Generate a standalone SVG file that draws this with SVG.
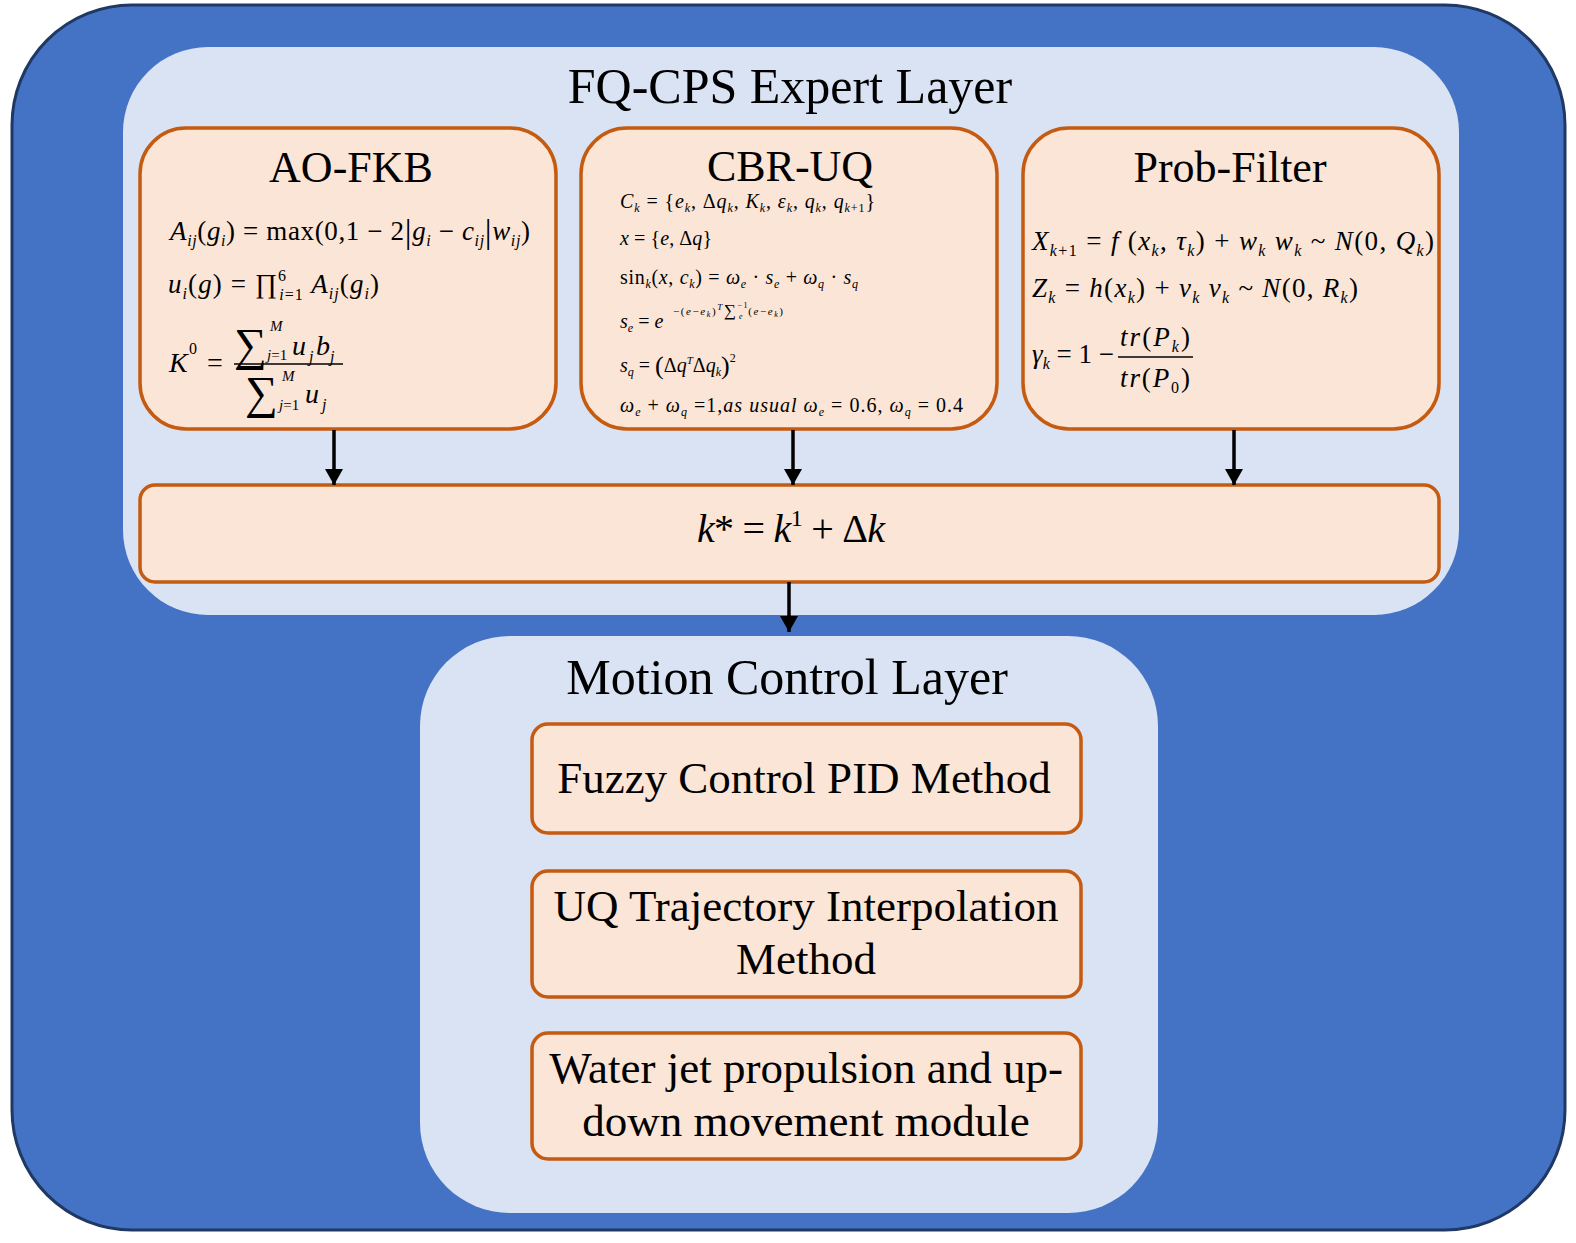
<svg xmlns="http://www.w3.org/2000/svg" width="1576" height="1243" viewBox="0 0 1576 1243">
<defs>
<marker id="ah" markerUnits="userSpaceOnUse" markerWidth="16" markerHeight="18" refX="16" refY="9" orient="auto" viewBox="0 0 16 18">
<path d="M0,0 L16,9 L0,18 Z" fill="#000"/>
</marker>
<style>
.outer{fill:#4472C4;stroke:#1F3864;stroke-width:3}
.panel{fill:#DAE3F3}
.box{fill:#FBE5D6;stroke:#C55A11;stroke-width:3.5}
.title{font-family:"Liberation Serif","Times New Roman",serif;font-size:50px;fill:#000;text-anchor:middle}
.head{font-family:"Liberation Serif","Times New Roman",serif;font-size:44px;fill:#000;text-anchor:middle}
.lbl{font-family:"Liberation Serif","Times New Roman",serif;font-size:45px;fill:#000;text-anchor:middle}
.m{font-family:"Liberation Serif","Times New Roman",serif;fill:#000}
.i{font-style:italic}
.conn{stroke:#000;stroke-width:3.5;fill:none}
</style>
</defs>

<rect class="outer" x="12" y="5" width="1553" height="1225" rx="120" ry="120"/>

<g id="expert-layer">
<rect class="panel" x="123" y="47" width="1336" height="568" rx="85" ry="85"/>
<text class="title" x="790" y="103">FQ-CPS Expert Layer</text>
</g>

<g id="motion-layer">
<rect class="panel" x="420" y="636" width="738" height="577" rx="90" ry="90"/>
<text class="title" x="787" y="694">Motion Control Layer</text>
</g>

<g id="ao-fkb">
<rect class="box" x="140" y="128" width="416" height="301" rx="46" ry="46"/>
<text class="head" x="351" y="182">AO-FKB</text>
<text class="m" x="170" y="240" font-size="27" textLength="360" lengthAdjust="spacing"><tspan class="i">A</tspan><tspan class="i" font-size="16" dy="6">ij</tspan><tspan dy="-6">(</tspan><tspan class="i">g</tspan><tspan class="i" font-size="16" dy="6">i</tspan><tspan dy="-6">) = max(0,1 − 2</tspan><tspan font-size="34" dy="3">|</tspan><tspan class="i" dy="-3">g</tspan><tspan class="i" font-size="16" dy="6">i</tspan><tspan dy="-6"> − </tspan><tspan class="i">c</tspan><tspan class="i" font-size="16" dy="6">ij</tspan><tspan font-size="34" dy="-3">|</tspan><tspan class="i" dy="-3">w</tspan><tspan class="i" font-size="16" dy="6">ij</tspan><tspan dy="-6">)</tspan></text>
<text class="m" x="168" y="293" font-size="27" textLength="211" lengthAdjust="spacing"><tspan class="i">u</tspan><tspan class="i" font-size="16" dy="6">i</tspan><tspan dy="-6">(</tspan><tspan class="i">g</tspan><tspan>) = ∏</tspan><tspan font-size="16" dy="-12">6</tspan><tspan class="i" font-size="16" dx="-8" dy="19">i</tspan><tspan font-size="16">=1</tspan><tspan class="i" dy="-7"> A</tspan><tspan class="i" font-size="16" dy="6">ij</tspan><tspan dy="-6">(</tspan><tspan class="i">g</tspan><tspan class="i" font-size="16" dy="6">i</tspan><tspan dy="-6">)</tspan></text>
<text class="m i" x="169" y="372" font-size="28">K</text>
<text class="m" x="189" y="354" font-size="16">0</text>
<text class="m" x="207" y="372" font-size="28">=</text>
<text class="m" x="234" y="360" font-size="46">∑</text>
<text class="m i" x="270" y="331" font-size="15">M</text>
<text class="m" x="267" y="360" font-size="15"><tspan class="i">j</tspan>=1</text>
<text class="m i" x="292" y="355" font-size="28">u</text>
<text class="m i" x="309" y="362" font-size="16">j</text>
<text class="m i" x="316" y="355" font-size="28">b</text>
<text class="m i" x="330" y="362" font-size="16">j</text>
<line x1="234" y1="364" x2="343" y2="364" stroke="#000" stroke-width="1.5"/>
<text class="m" x="245" y="408" font-size="46">∑</text>
<text class="m i" x="282" y="381" font-size="15">M</text>
<text class="m" x="279" y="410" font-size="15"><tspan class="i">j</tspan>=1</text>
<text class="m i" x="305" y="403" font-size="28">u</text>
<text class="m i" x="322" y="410" font-size="16">j</text>
</g>

<g id="cbr-uq">
<rect class="box" x="581" y="128" width="416" height="301" rx="46" ry="46"/>
<text class="head" x="790" y="181">CBR-UQ</text>
<text class="m" x="620" y="208" font-size="20" textLength="255" lengthAdjust="spacing"><tspan class="i">C</tspan><tspan class="i" font-size="12" dy="4">k</tspan><tspan dy="-4"> = {</tspan><tspan class="i">e</tspan><tspan class="i" font-size="12" dy="4">k</tspan><tspan dy="-4">, Δ</tspan><tspan class="i">q</tspan><tspan class="i" font-size="12" dy="4">k</tspan><tspan dy="-4">, </tspan><tspan class="i">K</tspan><tspan class="i" font-size="12" dy="4">k</tspan><tspan dy="-4">, </tspan><tspan class="i">ε</tspan><tspan class="i" font-size="12" dy="4">k</tspan><tspan dy="-4">, </tspan><tspan class="i">q</tspan><tspan class="i" font-size="12" dy="4">k</tspan><tspan dy="-4">, </tspan><tspan class="i">q</tspan><tspan class="i" font-size="12" dy="4">k</tspan><tspan font-size="12">+1</tspan><tspan dy="-4">}</tspan></text>
<text class="m" x="620" y="245" font-size="20" textLength="92" lengthAdjust="spacing"><tspan class="i">x</tspan> = {<tspan class="i">e</tspan>, Δ<tspan class="i">q</tspan>}</text>
<text class="m" x="620" y="284" font-size="20" textLength="238" lengthAdjust="spacing"><tspan>sin</tspan><tspan class="i" font-size="12" dy="4">k</tspan><tspan dy="-4">(</tspan><tspan class="i">x</tspan><tspan>, </tspan><tspan class="i">c</tspan><tspan class="i" font-size="12" dy="4">k</tspan><tspan dy="-4">) = </tspan><tspan class="i">ω</tspan><tspan class="i" font-size="12" dy="4">e</tspan><tspan dy="-4"> · </tspan><tspan class="i">s</tspan><tspan class="i" font-size="12" dy="4">e</tspan><tspan dy="-4"> + </tspan><tspan class="i">ω</tspan><tspan class="i" font-size="12" dy="4">q</tspan><tspan dy="-4"> · </tspan><tspan class="i">s</tspan><tspan class="i" font-size="12" dy="4">q</tspan></text>
<text class="m" x="620" y="328" font-size="20"><tspan class="i">s</tspan><tspan class="i" font-size="12" dy="4">e</tspan><tspan dy="-4"> = </tspan><tspan class="i">e</tspan></text>
<text class="m" x="673" y="315" font-size="11" textLength="110" lengthAdjust="spacing"><tspan>−(</tspan><tspan class="i">e</tspan><tspan>−</tspan><tspan class="i">e</tspan><tspan class="i" font-size="8" dy="2">k</tspan><tspan dy="-2">)</tspan><tspan class="i" font-size="9" dy="-5">T</tspan><tspan font-size="17" dy="6">∑</tspan><tspan font-size="8" dy="-8">−1</tspan><tspan class="i" font-size="8" dx="-10" dy="11">e</tspan><tspan dx="4" dy="-4">(</tspan><tspan class="i">e</tspan><tspan>−</tspan><tspan class="i">e</tspan><tspan class="i" font-size="8" dy="2">k</tspan><tspan dy="-2">)</tspan></text>
<text class="m" x="620" y="372" font-size="20"><tspan class="i">s</tspan><tspan class="i" font-size="12" dy="4">q</tspan><tspan dy="-4"> = </tspan><tspan font-size="26" dy="2">(</tspan><tspan dy="-2">Δ</tspan><tspan class="i">q</tspan><tspan class="i" font-size="11" dy="-8">T</tspan><tspan dy="8">Δ</tspan><tspan class="i">q</tspan><tspan class="i" font-size="12" dy="4">k</tspan><tspan font-size="26" dy="-2">)</tspan><tspan font-size="12" dy="-12">2</tspan></text>
<text class="m" x="620" y="412" font-size="20" textLength="343" lengthAdjust="spacing"><tspan class="i">ω</tspan><tspan class="i" font-size="12" dy="4">e</tspan><tspan dy="-4"> + </tspan><tspan class="i">ω</tspan><tspan class="i" font-size="12" dy="4">q</tspan><tspan dy="-4"> =1,</tspan><tspan class="i">as usual </tspan><tspan class="i"> ω</tspan><tspan class="i" font-size="12" dy="4">e</tspan><tspan dy="-4"> = 0.6, </tspan><tspan class="i">ω</tspan><tspan class="i" font-size="12" dy="4">q</tspan><tspan dy="-4"> = 0.4</tspan></text>
</g>

<g id="prob-filter">
<rect class="box" x="1023" y="128" width="416" height="301" rx="46" ry="46"/>
<text class="head" x="1230" y="182">Prob-Filter</text>
<text class="m" x="1032" y="250" font-size="27" textLength="402" lengthAdjust="spacing"><tspan class="i">X</tspan><tspan font-size="16" dy="6"><tspan class="i">k</tspan>+1</tspan><tspan dy="-6"> = </tspan><tspan class="i">f</tspan><tspan> (</tspan><tspan class="i">x</tspan><tspan class="i" font-size="16" dy="6">k</tspan><tspan dy="-6">, </tspan><tspan class="i">τ</tspan><tspan class="i" font-size="16" dy="6">k</tspan><tspan dy="-6">) + </tspan><tspan class="i">w</tspan><tspan class="i" font-size="16" dy="6">k</tspan><tspan class="i" dy="-6">  w</tspan><tspan class="i" font-size="16" dy="6">k</tspan><tspan dy="-6"> ~ </tspan><tspan class="i">N</tspan><tspan>(0, </tspan><tspan class="i">Q</tspan><tspan class="i" font-size="16" dy="6">k</tspan><tspan dy="-6">)</tspan></text>
<text class="m" x="1032" y="297" font-size="27" textLength="326" lengthAdjust="spacing"><tspan class="i">Z</tspan><tspan class="i" font-size="16" dy="6">k</tspan><tspan dy="-6"> = </tspan><tspan class="i">h</tspan><tspan>(</tspan><tspan class="i">x</tspan><tspan class="i" font-size="16" dy="6">k</tspan><tspan dy="-6">) + </tspan><tspan class="i">v</tspan><tspan class="i" font-size="16" dy="6">k</tspan><tspan class="i" dy="-6">  v</tspan><tspan class="i" font-size="16" dy="6">k</tspan><tspan dy="-6"> ~ </tspan><tspan class="i">N</tspan><tspan>(0, </tspan><tspan class="i">R</tspan><tspan class="i" font-size="16" dy="6">k</tspan><tspan dy="-6">)</tspan></text>
<text class="m" x="1032" y="363" font-size="27"><tspan class="i">γ</tspan><tspan class="i" font-size="16" dy="6">k</tspan><tspan dy="-6"> = 1 −</tspan></text>
<text class="m" x="1120" y="346" font-size="27" textLength="70" lengthAdjust="spacing"><tspan class="i">tr</tspan><tspan>(</tspan><tspan class="i">P</tspan><tspan class="i" font-size="16" dy="6">k</tspan><tspan dy="-6">)</tspan></text>
<line x1="1118" y1="357" x2="1193" y2="357" stroke="#000" stroke-width="1.5"/>
<text class="m" x="1120" y="387" font-size="27" textLength="70" lengthAdjust="spacing"><tspan class="i">tr</tspan><tspan>(</tspan><tspan class="i">P</tspan><tspan font-size="16" dy="6">0</tspan><tspan dy="-6">)</tspan></text>
</g>

<g id="k-star">
<rect class="box" x="140" y="485" width="1299" height="97" rx="15" ry="15"/>
<text class="m" x="697" y="542" font-size="40" textLength="188" lengthAdjust="spacing"><tspan class="i">k</tspan><tspan>* = </tspan><tspan class="i">k</tspan><tspan font-size="24" dy="-16">1</tspan><tspan dy="16"> + Δ</tspan><tspan class="i">k</tspan></text>
</g>

<g id="fuzzy-pid">
<rect class="box" x="532" y="724" width="549" height="109" rx="16" ry="16"/>
<text class="lbl" x="804" y="793">Fuzzy Control PID Method</text>
</g>

<g id="uq-traj">
<rect class="box" x="532" y="871" width="549" height="126" rx="16" ry="16"/>
<text class="lbl" x="806" y="921">UQ Trajectory Interpolation</text>
<text class="lbl" x="806" y="974">Method</text>
</g>

<g id="water-jet">
<rect class="box" x="532" y="1033" width="549" height="126" rx="16" ry="16"/>
<text class="lbl" x="806" y="1083">Water jet propulsion and up-</text>
<text class="lbl" x="806" y="1136">down movement module</text>
</g>

<g id="connectors">
<line class="conn" x1="334" y1="430" x2="334" y2="485" marker-end="url(#ah)"/>
<line class="conn" x1="793" y1="430" x2="793" y2="485" marker-end="url(#ah)"/>
<line class="conn" x1="1234" y1="430" x2="1234" y2="485" marker-end="url(#ah)"/>
<line class="conn" x1="789" y1="582" x2="789" y2="632" marker-end="url(#ah)"/>
</g>
</svg>
